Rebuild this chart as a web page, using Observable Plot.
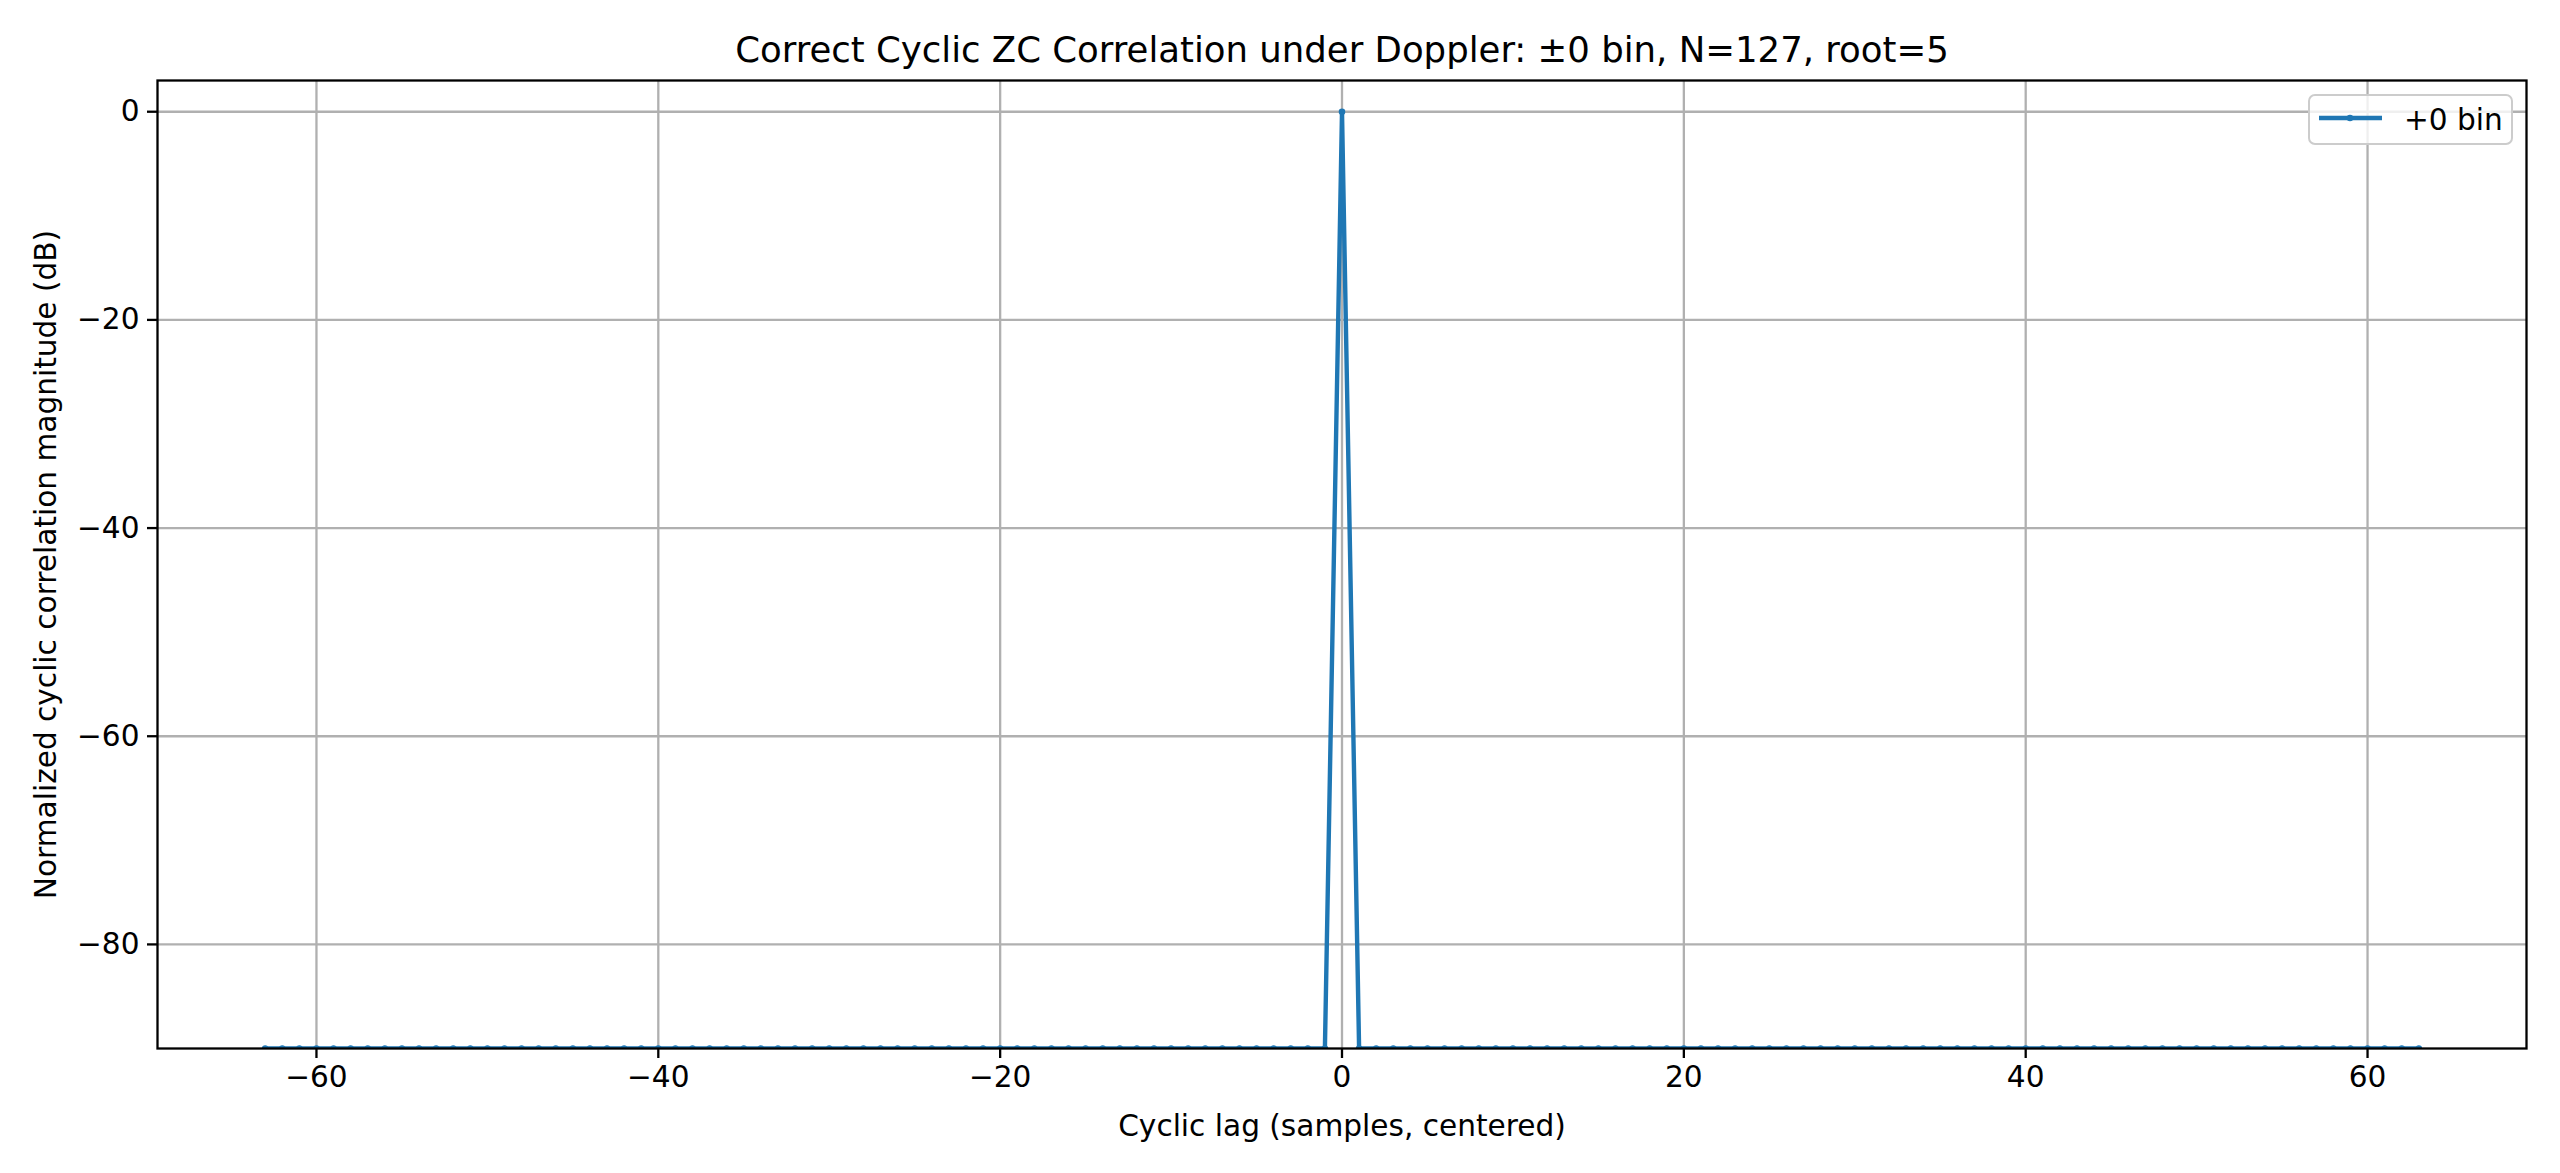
<!DOCTYPE html>
<html>
<head>
<meta charset="utf-8">
<script src="https://cdn.jsdelivr.net/npm/d3@7"></script>
<script src="https://cdn.jsdelivr.net/npm/@observablehq/plot@0.6"></script>
<style>
  html, body { margin: 0; padding: 0; background: #fff; }
  body { width: 2560px; height: 1173px; position: relative; overflow: hidden; font-family: "DejaVu Sans", sans-serif; }
  #title { box-sizing: border-box; height: 70px; padding-top: 32px; font-size: 35.5px; line-height: 35.5px; text-align: center; color: #000; padding-left: 124px; white-space: nowrap; }
  #legend { position: absolute; left: 2308px; top: 94px; width: 205px; height: 51px; box-sizing: border-box; border: 2px solid #cccccc; border-radius: 7px; background: rgba(255,255,255,0.8); }
  #legend svg { position: absolute; left: 7px; top: 0; }
  #legend span { position: absolute; left: 94px; top: 7px; font-size: 29.6px; line-height: 34px; color: #000; white-space: nowrap; }
</style>
</head>
<body>
<div id="title">Correct Cyclic ZC Correlation under Doppler: ±0 bin, N=127, root=5</div>
<div id="chart"></div>
<div id="legend">
  <svg width="80" height="47"><line x1="2" x2="65" y1="22" y2="22" stroke="#1f77b4" stroke-width="4.4"/><circle cx="33" cy="22" r="3.3" fill="#1f77b4"/></svg>
  <span>+0 bin</span>
</div>
<script>
const lags = [-63,-62,-61,-60,-59,-58,-57,-56,-55,-54,-53,-52,-51,-50,-49,-48,-47,-46,-45,-44,-43,-42,-41,-40,-39,-38,-37,-36,-35,-34,-33,-32,-31,-30,-29,-28,-27,-26,-25,-24,-23,-22,-21,-20,-19,-18,-17,-16,-15,-14,-13,-12,-11,-10,-9,-8,-7,-6,-5,-4,-3,-2,-1,0,1,2,3,4,5,6,7,8,9,10,11,12,13,14,15,16,17,18,19,20,21,22,23,24,25,26,27,28,29,30,31,32,33,34,35,36,37,38,39,40,41,42,43,44,45,46,47,48,49,50,51,52,53,54,55,56,57,58,59,60,61,62,63];
const corrDb = [-90,-90,-90,-90,-90,-90,-90,-90,-90,-90,-90,-90,-90,-90,-90,-90,-90,-90,-90,-90,-90,-90,-90,-90,-90,-90,-90,-90,-90,-90,-90,-90,-90,-90,-90,-90,-90,-90,-90,-90,-90,-90,-90,-90,-90,-90,-90,-90,-90,-90,-90,-90,-90,-90,-90,-90,-90,-90,-90,-90,-90,-90,-90,0,-90,-90,-90,-90,-90,-90,-90,-90,-90,-90,-90,-90,-90,-90,-90,-90,-90,-90,-90,-90,-90,-90,-90,-90,-90,-90,-90,-90,-90,-90,-90,-90,-90,-90,-90,-90,-90,-90,-90,-90,-90,-90,-90,-90,-90,-90,-90,-90,-90,-90,-90,-90,-90,-90,-90,-90,-90,-90,-90,-90,-90,-90,-90];
const xTicks = [-60, -40, -20, 0, 20, 40, 60];
const yTicks = [0, -20, -40, -60, -80];
const xLabel = "Cyclic lag (samples, centered)";
const yLabel = "Normalized cyclic correlation magnitude (dB)";

const data = lags.map((l, i) => ({lag: l, db: corrDb[i]}));
const fmt = d => d < 0 ? "\u2212" + Math.abs(d) : String(d);

const plot = Plot.plot({
  width: 2560,
  height: 1103,
  marginTop: 10,
  marginBottom: 125,
  marginLeft: 157,
  marginRight: 34,
  style: {fontFamily: "DejaVu Sans, sans-serif", fontSize: "29.6px", background: "#fff", color: "#000"},
  x: {domain: [-69.3, 69.3]},
  y: {domain: [-90, 3]},
  marks: [
    Plot.gridX(xTicks, {stroke: "#b0b0b0", strokeOpacity: 1, strokeWidth: 2.3}),
    Plot.gridY(yTicks, {stroke: "#b0b0b0", strokeOpacity: 1, strokeWidth: 2.3}),
    Plot.line(data, {x: "lag", y: "db", stroke: "#1f77b4", strokeWidth: 4.4, clip: true}),
    Plot.dot(data, {x: "lag", y: "db", fill: "#1f77b4", r: 3.3, clip: true}),
    Plot.frame({stroke: "#000", strokeWidth: 2.3}),
    Plot.axisX(xTicks, {tickSize: 10, tickPadding: 7, strokeWidth: 2.3, tickFormat: fmt, fontSize: 29.6, label: null}),
    Plot.axisY(yTicks, {tickSize: 10, tickPadding: 8, strokeWidth: 2.3, tickFormat: fmt, fontSize: 29.6, label: null}),
    Plot.text([xLabel], {frameAnchor: "bottom", dy: 78, text: d => d, fontSize: 29.6, lineAnchor: "middle"}),
    Plot.text([yLabel], {frameAnchor: "left", dx: -111, rotate: -90, textAnchor: "middle", lineAnchor: "middle", text: d => d, fontSize: 29.6})
  ]
});
document.getElementById("chart").appendChild(plot);
</script>
</body>
</html>
